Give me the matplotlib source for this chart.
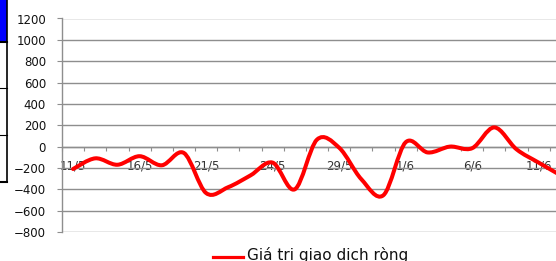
import numpy as np
import matplotlib
matplotlib.use('Agg')
import matplotlib.pyplot as plt
from matplotlib.path import Path
from matplotlib.patches import PathPatch, Rectangle
from matplotlib.lines import Line2D

# trading days and net value
dates = ['11/5', '14/5', '15/5', '16/5', '17/5', '18/5', '21/5', '22/5',
         '23/5', '24/5', '25/5', '28/5', '29/5', '30/5', '31/5', '1/6',
         '4/6', '5/6', '6/6', '7/6', '8/6', '11/6', '12/6']
values = [-210, -110, -170, -90, -175, -60, -435, -380,
          -270, -150, -400, 65, -10, -305, -455, 40,
          -55, 0, -15, 180, -25, -150, -270]
label_every = 3
y_ticks = list(range(-800, 1201, 200))
legend_text = 'Giá trị giao dịch ròng'

W, H = 556, 261
fig = plt.figure(figsize=(W / 100, H / 100), dpi=100)

def fx(px):
    return px / W

def fy(py):
    return 1 - py / H

# bits of the table that sits behind the chart on the left
fig.add_artist(Rectangle((0, fy(42)), fx(6.5), fy(0) - fy(42),
                         transform=fig.transFigure, color='#0000ff', lw=0))
fig.add_artist(Line2D([fx(6.5), fx(6.5)], [fy(0), fy(182)],
                      transform=fig.transFigure, color='black', lw=1.2))
for yy, w in [(42, 1.5), (88, 0.8), (135, 0.8), (182, 1.5)]:
    fig.add_artist(Line2D([0, fx(7.2)], [fy(yy), fy(yy)],
                          transform=fig.transFigure, color='black', lw=w))

ax = fig.add_axes([fx(62), fy(232), fx(W) - fx(62), fy(18.5) - fy(232)])

n = len(values)
xs = np.arange(n)

# smoothed line like Excel's (cubic bezier through the points)
pts = np.column_stack([xs, values]).astype(float)
verts = [pts[0]]
codes = [Path.MOVETO]
for i in range(n - 1):
    p0 = pts[max(i - 1, 0)]
    p1 = pts[i]
    p2 = pts[i + 1]
    p3 = pts[min(i + 2, n - 1)]
    verts += [p1 + (p2 - p0) / 6, p2 - (p3 - p1) / 6, p2]
    codes += [Path.CURVE4] * 3
ax.add_patch(PathPatch(Path(verts, codes), facecolor='none', edgecolor='#ff0000',
                       lw=2.9, capstyle='round', joinstyle='round', zorder=5))

grid_c = '#8e8e8e'
ax.set_yticks(y_ticks)
ax.yaxis.grid(True, color=grid_c, lw=1.0)
ax.set_axisbelow(True)
ax.tick_params(axis='y', length=3.5, width=0.8, color=grid_c, pad=8,
               labelsize=8.5, labelcolor='#111111')

for s in ['top', 'right']:
    ax.spines[s].set_visible(False)
ax.spines['left'].set_color(grid_c)
ax.spines['left'].set_linewidth(1.0)
ax.spines['bottom'].set_position(('data', 0))
ax.spines['bottom'].set_color(grid_c)
ax.spines['bottom'].set_linewidth(1.0)

ax.set_xticks(np.arange(-0.5, n, 1.0), minor=True)
ax.tick_params(axis='x', which='minor', length=3, width=0.8, color=grid_c,
               direction='out')
ax.set_xticks(xs[::label_every], [dates[i] for i in range(0, n, label_every)])
ax.tick_params(axis='x', which='major', length=0, pad=9,
               labelsize=8.5, labelcolor='#333333')

# limits last, set_xticks would widen them
ax.set_xlim(-0.5, (W - 73.5) / 22.15)
ax.set_ylim(-800, 1200)

# legend at the bottom (cut by the picture edge)
fig.add_artist(Line2D([fx(213), fx(243)], [fy(257), fy(257)],
                      transform=fig.transFigure, color='#ff0000', lw=2.3))
fig.text(fx(247), fy(260), legend_text, fontsize=11, color='#111111',
         ha='left', va='baseline')

fig.savefig('out.png', dpi=100, facecolor='white')
